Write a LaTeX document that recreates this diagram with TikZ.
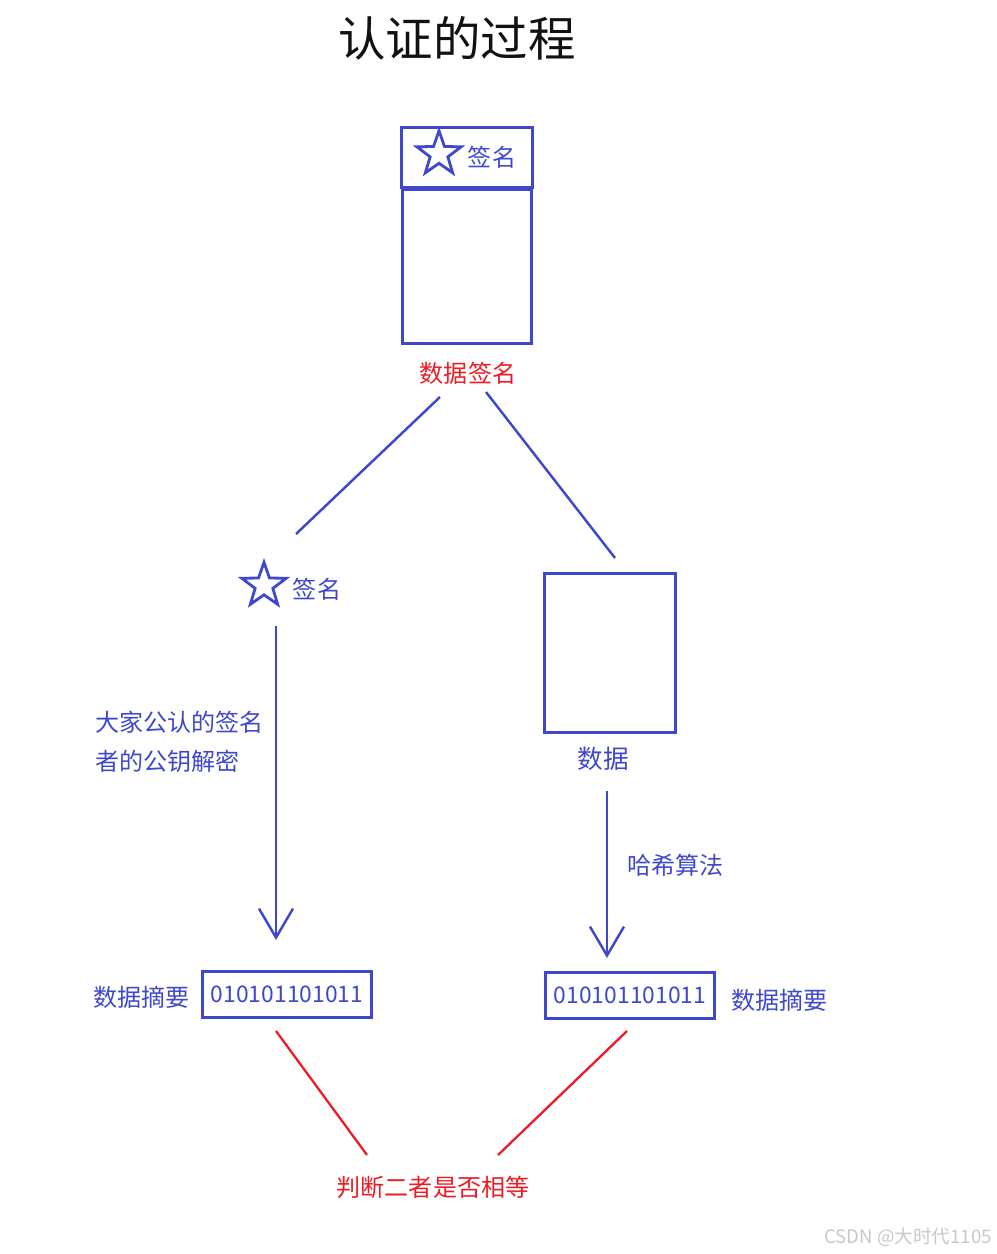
\documentclass[tikz,border=0pt]{standalone}
\usepackage{fontspec}
\setmainfont{Noto Sans CJK SC}
\usetikzlibrary{arrows.meta,shapes.geometric,positioning}
\definecolor{ink}{HTML}{3F48CC}
\definecolor{alert}{HTML}{ED1C24}
\definecolor{headink}{HTML}{111111}
\definecolor{wmark}{HTML}{C8C8C8}
\tikzset{
  % ---- boxes -----------------------------------------------------
  docbox/.style     = {rectangle, draw=ink, line width=1.7pt, inner sep=0pt},
  tagbox/.style     = {docbox, minimum width=2.62cm, minimum height=1.2cm},
  bodybox/.style    = {docbox, minimum width=2.57cm, minimum height=3.09cm},
  databox/.style    = {docbox, minimum width=2.62cm, minimum height=3.18cm},
  digbox/.style     = {docbox, minimum width=3.38cm, minimum height=0.92cm,
                       font=\fontsize{13}{15}\selectfont, text=ink},
  sigstar/.style    = {star, star points=5, star point ratio=2.5, draw=ink,
                       line width=1.6pt, inner sep=0pt, minimum size=0.93cm},
  % ---- texts -----------------------------------------------------
  head/.style       = {font=\fontsize{27}{30}\selectfont, text=headink},
  lbl/.style        = {font=\fontsize{13.7}{22.2}\selectfont, text=ink,
                       inner sep=0pt},
  redlbl/.style     = {lbl, text=alert},
  wm/.style         = {font=\fontsize{10.6}{12}\selectfont, text=wmark},
  % ---- connectors ------------------------------------------------
  link/.style       = {draw=ink, line width=1.4pt},
  flow/.style       = {link, -{Straight Barb[length=0.58cm, width=0.68cm]}},
  cmp/.style        = {draw=alert, line width=1.3pt},
}
\begin{document}
\begin{tikzpicture}[x=0.02cm, y=-0.02cm]
  \useasboundingbox (0,0) rectangle (997,1254);
  \node[head] (title) at (457,38) {认证的过程};
  % signed document
  \node[tagbox] (tag) at (466.8,157.4) {};
  \node[bodybox] (body) at (467,266.7) {};
  \node[sigstar] (tagstar) at (439,154) {};
  \node[lbl] (tagtxt) at (492,157) {签名};
  \node[redlbl] (signed) at (468,373) {数据签名};
  % split into signature and data
  \node[sigstar] (sigstar) at (264,585.5) {};
  \node[lbl] (sigtxt) at (317,589) {签名};
  \node[databox] (data) at (610,653) {};
  \node[lbl, font=\fontsize{14.6}{17}\selectfont] (datatxt) at (603,759) {数据};
  \coordinate (splitL0) at (440,397);
  \coordinate (splitL1) at (296,534);
  \coordinate (splitR0) at (486,392);
  \coordinate (splitR1) at (615,558);
  \draw[link] (splitL0) -- (splitL1);
  \draw[link] (splitR0) -- (splitR1);
  % decrypt / hash
  \coordinate (decA) at (276,626);
  \coordinate (decB) at (276,940);
  \coordinate (hashA) at (607,791);
  \coordinate (hashB) at (607,958);
  \draw[flow] (decA) -- (decB);
  \draw[flow] (hashA) -- (hashB);
  \node[lbl, align=left, anchor=west] (dectxt) at (95,741.5) {大家公认的签名\\者的公钥解密};
  \node[lbl, anchor=west] (hashtxt) at (627,865) {哈希算法};
  % digests
  \node[digbox] (digL) at (287,994.5) {010101101011};
  \node[digbox] (digR) at (630,995.5) {010101101011};
  \node[lbl, anchor=east] (digLtxt) at (190,997) {数据摘要};
  \node[lbl, anchor=west] (digRtxt) at (731,1000) {数据摘要};
  % compare
  \coordinate (cmpL0) at (276,1031);
  \coordinate (cmpL1) at (367,1155);
  \coordinate (cmpR0) at (627,1031);
  \coordinate (cmpR1) at (498,1155);
  \draw[cmp] (cmpL0) -- (cmpL1);
  \draw[cmp] (cmpR0) -- (cmpR1);
  \node[redlbl] (verdict) at (433,1187) {判断二者是否相等};
  \node[wm] (wmtxt) at (908,1237) {CSDN @大时代1105};
\end{tikzpicture}
\end{document}
